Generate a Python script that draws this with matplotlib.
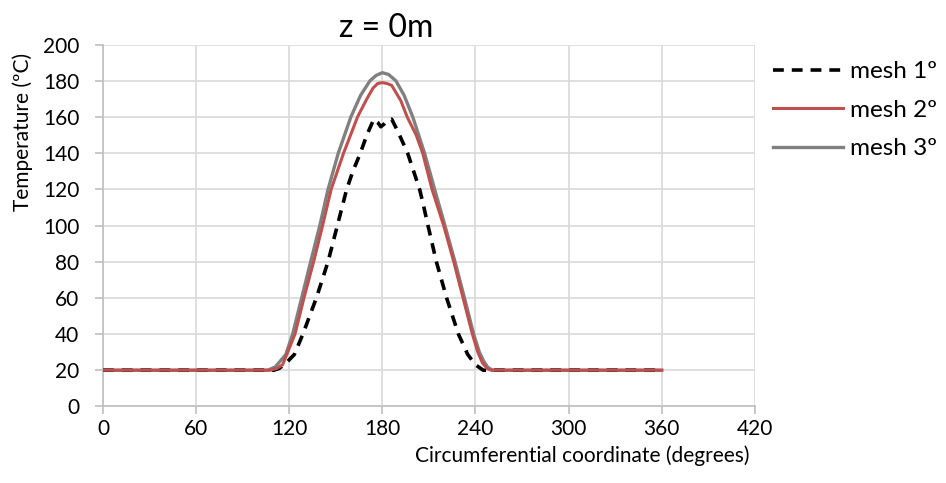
import matplotlib.pyplot as plt

plt.rcParams['font.family'] = ['Lato', 'DejaVu Sans']

# mesh 1 (dashed black)
x_mesh1 = [0, 60, 110, 113.5, 118, 123.3, 128.8, 137.5, 145, 151, 157, 161, 165.8, 170, 174.5,
           177, 179, 181, 183, 186, 190, 196.3, 204, 206, 209.4, 214.8, 221.4, 229, 235, 240, 245, 300, 360]
t_mesh1 = [20, 20, 20, 21, 24, 28.7, 40, 60, 80, 100, 120, 130, 140, 150, 158.8,
           157, 154.6, 156, 158, 158.8, 152, 140, 120, 113, 100, 80, 60, 40, 28.7, 23, 20, 20, 20]

# mesh 2 (red)
x_mesh2 = [0, 60, 108, 112, 115.7, 119, 123.7, 129.5, 135.7, 141.5, 147, 155, 164, 170, 174, 177,
           180, 183, 186, 191.9, 196, 201.8, 206, 212, 219.5, 226, 232, 238, 241.5, 244.5, 247.5, 250, 300, 360]
t_mesh2 = [20, 20, 20, 21, 23, 30, 40, 60, 80, 100, 120, 140, 160, 170, 176, 178.5,
           179, 178.5, 177.5, 169, 160, 150, 140, 120, 100, 80, 60, 40, 30, 24, 21, 20, 20, 20]

# mesh 3 (grey)
x_mesh3 = [0, 60, 106, 111, 117.8, 122.2, 128, 133.8, 139.7, 145, 151.6, 159.7, 166, 172, 176, 180,
           184, 188.7, 194, 199.6, 207.2, 213.7, 220.3, 226.8, 232.9, 238.8, 242.5, 245.3, 248, 251, 300, 360]
t_mesh3 = [20, 20, 20, 21.8, 28.7, 40, 60, 80, 100, 120, 140, 160, 172, 180, 183, 184.5,
           183.5, 180, 172, 160, 140, 120, 100, 80, 60, 40, 30, 25, 21.5, 20, 20, 20]

x_ticks = [0, 60, 120, 180, 240, 300, 360, 420]
y_ticks = [0, 20, 40, 60, 80, 100, 120, 140, 160, 180, 200]

fig = plt.figure(figsize=(9.46, 4.83), dpi=100)
ax = fig.add_axes([0.1089, 0.1586, 0.689, 0.749])

ax.plot(x_mesh1, t_mesh1, color='black', lw=2.6, ls=(0, (3.0, 2.2)), label='mesh 1º', zorder=3)
ax.plot(x_mesh2, t_mesh2, color='#c0504d', lw=2.2, label='mesh 2º', zorder=4)
ax.plot(x_mesh3, t_mesh3, color='#808080', lw=2.4, label='mesh 3º', zorder=2)

ax.set_xlim(0, 420)
ax.set_ylim(0, 200)
ax.set_xticks(x_ticks)
ax.set_yticks(y_ticks)
ax.grid(True, color='#d9d9d9', lw=1.2)
ax.set_axisbelow(True)
for s in ['top', 'right']:
    ax.spines[s].set_visible(False)
for s in ['left', 'bottom']:
    ax.spines[s].set_color('#bfbfbf')
    ax.spines[s].set_linewidth(1.2)
ax.tick_params(axis='both', colors='#bfbfbf', length=6, width=1.2, labelsize=15,
               labelcolor='black')
ax.tick_params(axis='x', pad=3)
ax.tick_params(axis='y', pad=11)

ax.text(0.434, 1.046, 'z = 0m', transform=ax.transAxes, fontsize=23,
        ha='center', va='center')
ax.set_xlabel('Circumferential coordinate (degrees)', fontsize=15, ha='right', va='center')
ax.xaxis.set_label_coords(0.992, -0.137)
ax.set_ylabel('Temperature (ºC)', fontsize=15, ha='center', va='center')
ax.yaxis.set_label_coords(-0.1235, 0.759)

ax.legend(loc='upper left', bbox_to_anchor=(0.817, 0.873), bbox_transform=fig.transFigure,
          frameon=False, fontsize=17.5, borderpad=0, borderaxespad=0,
          handlelength=2.88, handletextpad=0.29, labelspacing=0.72)

fig.savefig('out.png', dpi=100)
